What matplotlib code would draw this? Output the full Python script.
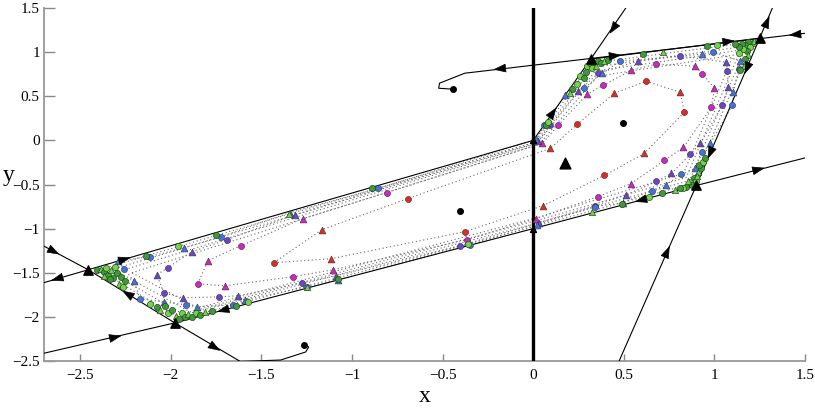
import matplotlib
matplotlib.use('Agg')
import matplotlib.pyplot as plt
import numpy as np

plt.rcParams['font.family'] = ['Liberation Serif', 'DejaVu Serif']

# ---------------- data ----------------
# boundary of the invariant region (closed)
bnd_x = [-2.456, 0.0, 0.317, 1.25, 0.9, 0.0, -1.978, -2.456]
bnd_y = [-1.466, 0.0, 0.92, 1.159, -0.511, -1.0, -2.068, -1.466]

# external trajectories (solid lines)
top_line_x = [1.511, 1.25, 0.317, -0.378, -0.517, -0.522, -0.444]
top_line_y = [1.216, 1.153, 0.928, 0.761, 0.648, 0.591, 0.580]
tl_up_x = [0.317, 0.511]
tl_up_y = [0.92, 1.5]
tr_up_x = [1.25, 1.32]
tr_up_y = [1.159, 1.5]
br_right_x = [0.9, 1.511]
br_right_y = [-0.511, -0.193]
br_below_x = [0.472, 0.9]
br_below_y = [-2.51, -0.511]
l_in_x = [-2.717, -2.456]
l_in_y = [-1.18, -1.466]
l_out_x = [-2.456, -2.717]
l_out_y = [-1.466, -1.622]
bv_in_x = [-2.717, -1.978]
bv_in_y = [-2.42, -2.068]
bv_out_x = [-1.978, -1.617, -1.394, -1.256, -1.239, -1.267]
bv_out_y = [-2.068, -2.505, -2.489, -2.398, -2.341, -2.318]

# arrows: position and direction (data units)
arr_x = [1.43, -0.20, 0.467, 1.094, 0.428, 1.30, 0.122, 1.17, 0.967, 1.26, 0.749, 0.578,
         -1.728, -2.29, -1.739, -2.256, -2.628, -2.644, -2.239]
arr_y = [1.196, 0.808, 0.963, 1.124, 1.227, 1.39, 0.354, 0.77, -0.19, -0.32, -1.216, -0.686,
         -1.933, -2.222, -2.369, -1.718, -1.278, -1.578, -1.337]
arr_dx = [-0.261, -1.0, 1.0, 1.0, -0.194, 0.07, 0.317, -0.35, -0.35, 0.611, 0.428, -0.9,
          -1.978, 0.739, 1.0, -0.478, 0.261, -1.0, 1.0]
arr_dy = [-0.051, -0.241, 0.241, 0.241, -0.58, 0.341, 0.92, -1.67, -1.67, 0.318, 1.999, -0.489,
          -1.068, 0.352, -1.259, 0.602, -0.286, -0.597, 0.597]

# orbits with markers (ordered along the orbit; 'o' circle, '^' triangle)
red_x = [-1.431, -1.166, -0.691, 0.094, 0.243, 0.448, 0.624, 0.812, 0.834, 0.613, 0.392, 0.055, -0.376, -1.116]
red_y = [-1.386, -1.011, -0.659, -0.091, 0.182, 0.534, 0.670, 0.545, 0.318, -0.148, -0.398, -0.739, -1.034, -1.341]
red_m = 'o^o^o^o^o^o^o^'

mag_x = [-1.851, -1.796, -1.613, -1.271, -0.807, 0.050, 0.138, 0.298, 0.387, 0.541, 0.680, 0.895,
         0.934, 1.0, 0.983, 0.829, 0.724, 0.541, 0.359, 0.017, -0.365, -1.105, -1.326, -1.702]
mag_y = [-1.625, -1.364, -1.193, -0.886, -0.591, -0.034, 0.170, 0.523, 0.625, 0.795, 0.864, 0.841,
         0.750, 0.591, 0.375, -0.080, -0.227, -0.489, -0.636, -0.886, -1.125, -1.466, -1.545, -1.648]
mag_m = 'o^o^o^o^o^o^o^o^o^o^o^o^'

vio_x = [-1.735, -1.934, -2.039, -2.077, -2.017, -1.884, -1.691, -1.315, 0.028, 0.094, 0.249, 0.359,
         0.580, 0.812, 1.066, 1.072, 1.077, 1.044, 0.923, 0.867, 0.762, 0.680, 0.514, 0.343, 0.033,
         -0.403, -1.088, -1.276, -1.630]
vio_y = [-1.773, -1.784, -1.727, -1.523, -1.443, -1.261, -1.125, -0.841, -0.011, 0.170, 0.557, 0.761,
         0.898, 0.955, 0.886, 0.784, 0.602, 0.398, -0.034, -0.159, -0.375, -0.466, -0.614, -0.739, -0.932,
         -1.193, -1.534, -1.614, -1.761]
vio_m = 'o^o^o^o^^o^o^o^o^o^o^o^o^o^o^'

blu_x = [-2.171, -2.204, -2.260, -2.293, -2.116, -1.928, -1.724, -1.343, -0.856, 0.017, 0.061, 0.177,
         0.282, 0.381, 0.481, 0.934, 0.994, 1.144, 1.133, 1.105, 1.099, 0.978, 0.934, 0.895, 0.818,
         0.735, 0.657, 0.497, 0.343, 0.022, -0.348, -1.077, -1.249, -1.591, -1.657, -1.856, -1.917, -2.039]
blu_y = [-1.795, -1.591, -1.455, -1.364, -1.318, -1.216, -1.091, -0.818, -0.545, 0.011, 0.170, 0.511,
         0.591, 0.761, 0.898, 0.977, 1.0, 0.898, 0.807, 0.545, 0.398, -0.034, -0.136, -0.318, -0.386,
         -0.5, -0.568, -0.705, -0.75, -0.955, -1.182, -1.580, -1.659, -1.807, -1.864, -1.886, -1.864, -1.830]
blu_m = 'o^o^o^o^o^o^o^o^o^o^o^o^o^o^o^o^o^o^o^'

# extra orbits close to the boundary (dotted only)
loop1_x = [-2.398, 0.006, 0.320, 1.210, 0.878, 0.006, -1.950]
loop1_y = [-1.466, -0.023, 0.875, 1.114, -0.489, -0.977, -2.023]
loop2_x = [-2.348, 0.011, 0.331, 1.177, 0.862, 0.011, -1.928]
loop2_y = [-1.477, -0.034, 0.830, 1.068, -0.455, -0.943, -1.977]
loop3_x = [-2.293, 0.022, 0.343, 1.144, 0.845, 0.017, -1.895]
loop3_y = [-1.489, -0.034, 0.784, 1.023, -0.420, -0.909, -1.943]
loop4_x = [-2.215, 0.033, 0.354, 1.105, 0.829, 0.022, -1.851]
loop4_y = [-1.5, -0.045, 0.727, 0.966, -0.375, -0.875, -1.898]

# green markers crowding near the corners of the region
grn_x = [-2.409, -2.387, -2.370, -2.359, -2.348, -2.331, -2.320, -2.309, -2.298, -2.287, -2.276, -2.265,
         -2.337, -2.370, -2.254,
         -2.116, -2.077, -2.061, -2.033, -2.017, -1.994, -1.972, -1.956, -1.939, -1.923, -1.906, -1.884,
         -1.862, -1.840, -1.812, -1.773,
         0.298, 0.315, 0.337, 0.359, 0.326, 0.293, 0.348, 0.376, 0.260, 0.282, 0.392, 0.414, 0.243, 0.215,
         0.204, 0.072, 0.083,
         0.608, 0.718, 0.961, 1.017,
         1.188, 1.210, 1.171, 1.199, 1.155, 1.221, 1.182, 1.160, 1.138, 1.188, 1.171, 1.133, 1.116, 1.166, 1.144,
         0.867, 0.890, 0.912, 0.928, 0.901, 0.878, 0.906, 0.845, 0.829, 0.812, 0.856, 0.917, 0.939, 0.950,
         0.785, 0.713, 0.641, 0.492, 0.326,
         -2.138, -1.961, -1.751, -1.348, -0.890, -1.575, -1.641, -1.249, -1.077, -0.359]
grn_y = [-1.466, -1.455, -1.489, -1.443, -1.523, -1.466, -1.557, -1.432, -1.5, -1.625, -1.545, -1.659,
         -1.568, -1.534, -1.591,
         -1.852, -1.886, -1.920, -1.875, -1.955, -1.920, -1.989, -2.023, -1.955, -2.0, -1.966, -2.0,
         -1.955, -1.977, -1.943, -1.932,
         0.841, 0.875, 0.886, 0.898, 0.818, 0.773, 0.841, 0.875, 0.727, 0.705, 0.898, 0.909, 0.636, 0.580,
         0.534, 0.170, 0.205,
         0.977, 1.0, 1.068, 1.080,
         1.114, 1.102, 1.080, 1.057, 1.091, 1.125, 1.011, 1.034, 1.057, 0.966, 0.920, 0.989, 1.091, 0.841, 0.795,
         -0.477, -0.432, -0.364, -0.318, -0.466, -0.5, -0.409, -0.523, -0.545, -0.545, -0.455, -0.284, -0.25, -0.205,
         -0.557, -0.591, -0.636, -0.716, -0.807,
         -1.307, -1.193, -1.068, -0.830, -0.545, -1.830, -1.875, -1.659, -1.568, -1.170]

# black points
eq_dot_x = [0.494, -0.406, -0.444, -1.267]
eq_dot_y = [0.193, -0.795, 0.580, -2.318]
eq_tri_x = [0.178]
eq_tri_y = [-0.261]
vert_x = [-2.456, -1.978, 0.317, 1.25, 0.9]
vert_y = [-1.466, -2.068, 0.92, 1.159, -0.511]
swp_x = [0.0, 0.0]
swp_y = [0.0, -1.0]

x_ticks = [-2.5, -2, -1.5, -1, -0.5, 0, 0.5, 1, 1.5]
y_ticks = [-2.5, -2, -1.5, -1, -0.5, 0, 0.5, 1, 1.5]
tick_labels = ['\u22122.5', '\u22122', '\u22121.5', '\u22121', '\u22120.5', '0', '0.5', '1', '1.5']

# ---------------- drawing ----------------
fig = plt.figure(figsize=(8.15, 4.09), dpi=100)
ax = fig.add_axes([44 / 815, 1 - 361 / 409, 761 / 815, 353 / 409])
ax.set_xlim(-2.7, 1.5)
ax.set_ylim(-2.5, 1.5)

dot_style = dict(color='#666666', lw=0.8, linestyle=(0, (1, 2.4)), zorder=1)


def closed(xs, ys):
    return list(xs) + [xs[0]], list(ys) + [ys[0]]


for lx, ly in [(loop1_x, loop1_y), (loop2_x, loop2_y), (loop3_x, loop3_y), (loop4_x, loop4_y),
               (blu_x, blu_y), (vio_x, vio_y), (mag_x, mag_y), (red_x, red_y)]:
    cx, cy = closed(lx, ly)
    ax.plot(cx, cy, **dot_style)

line_style = dict(color='black', lw=0.8, zorder=3)
ax.plot(bnd_x, bnd_y, **line_style)
for lx, ly in [(top_line_x, top_line_y), (tl_up_x, tl_up_y), (tr_up_x, tr_up_y),
               (br_right_x, br_right_y), (br_below_x, br_below_y), (l_in_x, l_in_y),
               (l_out_x, l_out_y), (bv_in_x, bv_in_y), (bv_out_x, bv_out_y)]:
    ax.plot(lx, ly, **line_style)

ax.plot([0, 0], [-2.5, 1.5], color='black', lw=2.4, zorder=3.5)


def markers(xs, ys, ms, color):
    for x, y, m in zip(xs, ys, ms):
        ax.scatter([x], [y], marker=m, s=24 if m == '^' else 19, c=color,
                   edgecolors='#3a3a3a', linewidths=0.45, zorder=5)


markers(red_x, red_y, red_m, '#e42a1e')
markers(mag_x, mag_y, mag_m, '#d323c8')
markers(vio_x, vio_y, vio_m, '#6a44d0')
markers(blu_x, blu_y, blu_m, '#3f72e2')

grn_cols = ['#3d9a35', '#72d447']
grn_marks = ['o', '^', 'o', 'o']
for i, (x, y) in enumerate(zip(grn_x, grn_y)):
    ax.scatter([x], [y], marker=grn_marks[i % 4], s=20, c=grn_cols[i % 2],
               edgecolors='#1e3d1e', linewidths=0.45, zorder=5)

ax.scatter(eq_dot_x, eq_dot_y, marker='o', s=16, c='black', zorder=6)
ax.scatter(eq_tri_x, eq_tri_y, marker='^', s=60, c='black', zorder=6)
ax.scatter(vert_x, vert_y, marker='^', s=45, c='black', zorder=6)
ax.scatter(swp_x, swp_y, marker='^', s=18, c='black', zorder=6)

# arrows
for x, y, dx, dy in zip(arr_x, arr_y, arr_dx, arr_dy):
    n = np.hypot(dx, dy)
    ax.annotate('', xy=(x + 0.02 * dx / n, y + 0.02 * dy / n), xytext=(x, y),
                arrowprops=dict(arrowstyle='-|>,head_length=0.8,head_width=0.28',
                                color='black', lw=0.5, shrinkA=0, shrinkB=0),
                zorder=7)

for s in ['top', 'right']:
    ax.spines[s].set_visible(False)
for s in ['left', 'bottom']:
    ax.spines[s].set_color('#999999')
    ax.spines[s].set_linewidth(1.3)

ax.set_xticks(x_ticks)
ax.set_yticks(y_ticks)
ax.set_xticklabels(tick_labels)
ax.set_yticklabels(tick_labels)
ax.tick_params(axis='both', direction='in', colors='#888888', labelcolor='black', labelsize=11, width=1)
ax.tick_params(axis='x', length=5, pad=6)
ax.tick_params(axis='y', length=8, pad=3)

fig.text(425 / 815, 1 - 396 / 409, 'x', ha='center', va='center', fontsize=17)
fig.text(9 / 815, 1 - 176 / 409, 'y', ha='center', va='center', fontsize=17)

fig.savefig('out.png', dpi=100)
